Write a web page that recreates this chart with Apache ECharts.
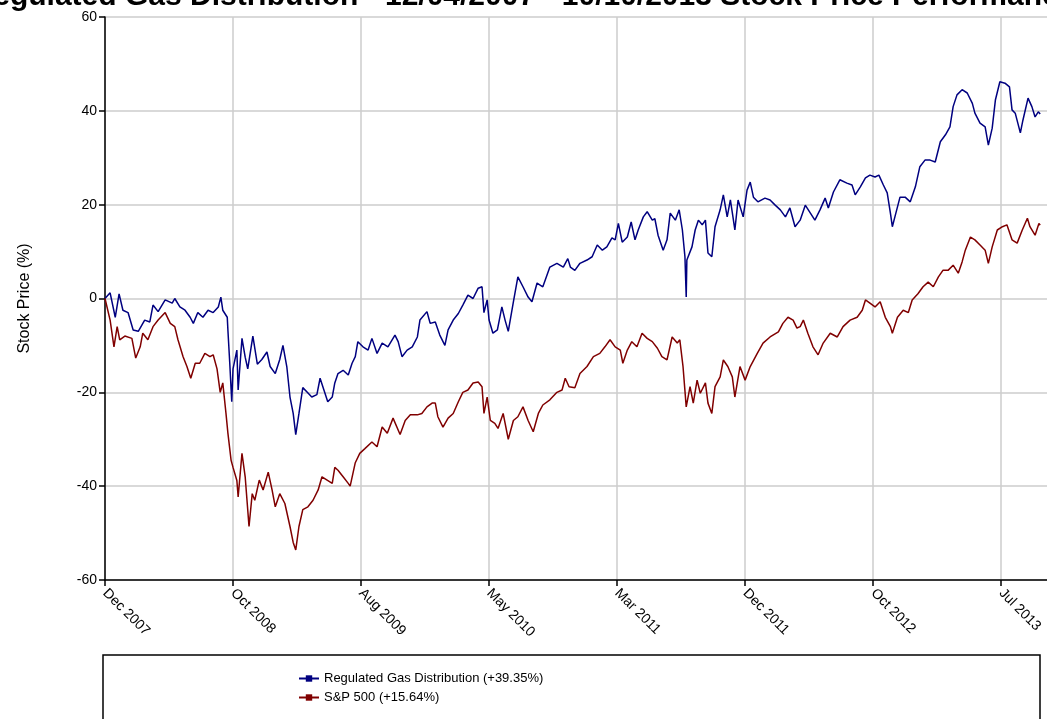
<!DOCTYPE html>
<html>
<head>
<meta charset="utf-8">
<script src="https://cdn.jsdelivr.net/npm/echarts@6/dist/echarts.min.js"></script>
<style>html,body{margin:0;padding:0;background:#fff;overflow:hidden}#chart{width:1047px;height:719px}</style>
</head>
<body>
<div id="chart"></div>
<script>
// x = trading-day index since 12/04/2007; tick every 200 trading days
const tickLabels = ["Dec 2007","Oct 2008","Aug 2009","May 2010","Mar 2011","Dec 2011","Oct 2012","Jul 2013"];

const blueDays = [0,8,16,22,28,36,44,52,62,70,75,83,94,105,109,117,125,133,138,145,153,161,169,177,181,184,191,192,195,198,200,206,208,214,219,223,231,238,245,253,258,266,273,278,284,289,294,298,303,309,316,323,331,336,342,348,355,359,364,372,380,386,391,395,403,411,417,425,433,442,453,458,464,472,480,488,492,503,508,516,523,531,536,544,552,559,567,575,583,589,592,597,600,606,613,620,625,630,638,645,653,661,667,675,684,695,706,716,723,727,734,742,753,761,769,777,784,792,797,802,808,816,822,828,833,841,847,855,859,864,872,878,883,891,897,902,906,908,909,917,922,927,933,938,942,948,953,961,966,972,977,981,984,989,997,1003,1008,1013,1020,1031,1039,1047,1055,1063,1070,1078,1086,1094,1102,1109,1117,1125,1130,1138,1148,1159,1167,1172,1180,1188,1195,1203,1209,1216,1222,1227,1230,1234,1242,1250,1258,1266,1273,1281,1289,1297,1305,1313,1320,1325,1331,1339,1347,1355,1359,1367,1375,1380,1386,1391,1398,1406,1413,1417,1422,1430,1434,1442,1448,1453,1458,1461];
const blueVals = [0,1.2,-4,1,-2.5,-3,-6.7,-7,-4.6,-5,-1.4,-2.8,-0.3,-1,0,-1.8,-2.5,-4,-5.3,-3,-4,-2.5,-3,-1.8,0.3,-2.5,-4,-6.7,-14,-22,-15,-11,-19.5,-8.5,-12.5,-15,-8,-14,-13,-11.4,-14.5,-16,-13,-10,-14.5,-21,-24.5,-29,-24.5,-19,-20,-21,-20.5,-17,-19.5,-22,-21,-18,-16,-15.3,-16.3,-13.8,-12.4,-9.2,-10.3,-11,-8.5,-11.7,-9.5,-10.3,-7.8,-9.2,-12.4,-11,-10.3,-8.2,-4.6,-2.8,-5.3,-5,-7.8,-10,-6.7,-4.6,-3.2,-1.4,0.7,0,2.2,2.5,-3,-0.3,-4.6,-7.4,-6.7,-1.8,-4.6,-7,-0.7,4.6,2.5,0.3,-0.7,3.3,2.5,6.7,7.5,6.7,8.5,6.7,6,7.5,8.2,8.9,11.4,10.3,11,12.9,12.5,16,12,13.1,16.3,12.5,14.6,17.4,18.5,16.7,17,13.5,10.3,12.5,18.2,16.7,18.9,14.6,8.9,0.3,8.2,11,14.6,16.7,15.7,16.7,9.7,8.9,15.3,18.9,22.1,17.4,21,17.4,14.6,21,17.4,23.1,24.8,21.6,20.6,21.4,21,19.9,18.9,17.4,19.3,15.3,16.7,19.9,18.2,16.7,18.9,21.4,19.3,22.7,25.3,24.6,24.2,22.1,23.8,25.7,26.3,25.9,26.3,24.2,22.5,18.2,15.3,17.4,21.6,21.6,20.6,23.8,28.1,29.5,29.5,29.1,33.4,34.9,36.6,40.9,43.4,44.5,43.8,41.6,39.5,37.4,36.6,32.7,36.3,42.3,46.2,45.9,45.1,40.2,39.5,35.3,38,42.7,40.9,38.7,39.8,39.35];

const redDays = [0,8,14,19,23,31,42,48,55,59,67,75,83,94,102,109,114,122,128,134,141,148,156,164,169,175,180,184,189,192,197,200,206,208,214,219,225,230,234,241,247,255,261,266,273,281,289,294,298,303,309,317,325,333,339,347,355,359,364,372,380,383,391,398,406,417,425,433,441,450,461,469,477,488,495,503,511,516,520,528,536,544,552,559,567,575,583,589,592,597,602,609,614,622,630,638,645,653,661,669,677,684,695,706,714,719,725,727,734,742,753,763,773,781,789,797,805,809,816,823,831,839,847,855,863,870,878,886,894,898,903,908,914,919,925,930,938,942,948,953,961,966,973,980,984,992,1000,1008,1019,1028,1039,1052,1059,1067,1075,1081,1086,1091,1098,1106,1114,1122,1133,1144,1153,1164,1175,1183,1188,1195,1203,1211,1219,1227,1230,1238,1247,1255,1261,1270,1278,1286,1294,1302,1309,1317,1325,1333,1339,1344,1352,1359,1367,1375,1380,1386,1394,1402,1409,1417,1425,1433,1441,1445,1453,1459,1461];
const redVals = [0,-4.6,-10.3,-6,-8.8,-8,-8.5,-12.7,-10.3,-7.4,-8.8,-6,-4.6,-3,-5.3,-6,-8.8,-12.4,-14.5,-17,-13.8,-13.8,-11.7,-12.4,-12,-15,-20,-18,-24.5,-28.7,-34.5,-36,-38.8,-42.3,-33,-38,-48.6,-41.6,-43,-38.7,-40.8,-37,-40.8,-44.4,-41.6,-43.7,-48.6,-52,-53.6,-48.6,-45,-44.4,-43,-40.8,-38,-38.7,-39.4,-36,-36.6,-38,-39.4,-40,-35,-33,-32,-30.6,-31.6,-27.4,-28.7,-25.5,-29,-26,-24.8,-24.8,-24.5,-23.1,-22.3,-22.3,-25.2,-27.4,-25.5,-24.5,-22,-20,-19.5,-18,-17.8,-18.8,-24.5,-21,-26,-26.6,-27.7,-24.5,-30,-26,-25.2,-23.1,-26,-28.4,-24.5,-22.7,-21.6,-20,-19.5,-17,-18.8,-19,-19,-16,-14.5,-12.4,-11.7,-10.3,-8.8,-10.3,-11,-13.8,-11,-9.2,-10.3,-7.4,-8.5,-9.2,-10.6,-12.4,-13.1,-8.2,-9.5,-8.8,-14.5,-23.1,-18.8,-22.3,-17.4,-20.2,-18,-22.3,-24.5,-18.8,-16.7,-13.1,-14.5,-16.7,-21,-14.5,-17.4,-14.5,-11.7,-9.5,-8.2,-7.1,-5.3,-4,-4.6,-6.3,-6,-4.6,-7.4,-10.3,-12,-9.5,-7.4,-8.2,-6,-4.6,-4,-2.5,-0.3,-1,-1.8,-0.7,-4,-6,-7.4,-4,-2.5,-3,-0.3,1,2.5,3.5,2.5,4.6,6,6,7.1,5.4,7.8,10.3,13.1,12.5,11.4,10.3,7.5,11,14.6,15.3,15.7,12.5,11.8,14.6,17.1,15.3,13.5,16,15.64];

const seriesNames = ["Regulated Gas Distribution (+39.35%)", "S&P 500 (+15.64%)"];

function pairs(xs, ys){ return xs.map((x,i)=>[x, ys[i]]); }

const chart = echarts.init(document.getElementById('chart'));
chart.setOption({
  animation: false,
  backgroundColor: '#fff',
  textStyle: { fontFamily: 'Arial, "Liberation Sans", sans-serif' },
  title: {
    text: 'Regulated Gas Distribution - 12/04/2007 - 10/10/2013 Stock Price Performance',
    left: 'center', top: -23,
    textStyle: { fontSize: 30, fontWeight: 'bold', color: '#000', fontFamily: 'Arial, "Liberation Sans", sans-serif' }
  },
  grid: { left: 105, width: 948, top: 17, height: 563, containLabel: false, outerBoundsMode: 'none' },
  graphic: [{
    type: 'rect', z: -1,
    shape: { x: 103, y: 655, width: 937, height: 100 },
    style: { fill: '#fff', stroke: '#000', lineWidth: 1.5 }
  }],
  legend: {
    orient: 'vertical', left: 298, top: 672, itemGap: 6, padding: 0,
    itemWidth: 20, itemHeight: 8,
    textStyle: { fontSize: 13, color: '#000' },
    data: seriesNames
  },
  xAxis: {
    type: 'value', min: 0, max: 1481, interval: 200,
    axisLine: { show: true, onZero: false, lineStyle: { color: '#000', width: 1.5 } },
    axisTick: { show: true, length: 6, lineStyle: { color: '#000', width: 1.5 } },
    splitLine: { show: true, lineStyle: { color: '#cccccc', width: 1.5 } },
    axisLabel: {
      rotate: -45, fontSize: 14, color: '#000', margin: 11,
      formatter: v => (v % 200 === 0 ? (tickLabels[v / 200] || '') : '')
    }
  },
  yAxis: {
    type: 'value', min: -60, max: 60, interval: 20,
    name: 'Stock Price (%)', nameLocation: 'middle', nameGap: 72,
    nameTextStyle: { fontSize: 16, color: '#000' },
    axisLine: { show: true, onZero: false, lineStyle: { color: '#000', width: 1.5 } },
    axisTick: { show: true, length: 6, lineStyle: { color: '#000', width: 1.5 } },
    splitLine: { show: true, lineStyle: { color: '#cccccc', width: 1.5 } },
    axisLabel: { fontSize: 14, color: '#000', margin: 8 }
  },
  series: [
    { name: seriesNames[0], type: 'line', data: pairs(blueDays, blueVals), color: '#000080',
      symbol: 'rect', symbolSize: 6, showSymbol: false, lineStyle: { width: 1.5, color: '#000080' } },
    { name: seriesNames[1], type: 'line', data: pairs(redDays, redVals), color: '#800000',
      symbol: 'rect', symbolSize: 6, showSymbol: false, lineStyle: { width: 1.5, color: '#800000' } }
  ]
});
</script>
</body>
</html>
